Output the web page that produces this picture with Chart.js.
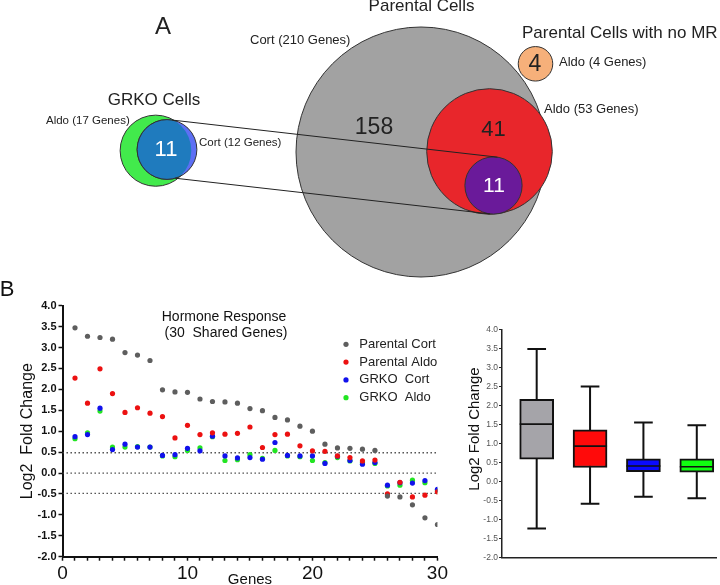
<!DOCTYPE html>
<html>
<head>
<meta charset="utf-8">
<script src="https://cdn.jsdelivr.net/npm/chart.js@4.4.1/dist/chart.umd.min.js"></script>
<style>
  body { margin: 0; background: #fff; }
  #wrap { position: relative; width: 720px; height: 585px; overflow: hidden; }
  canvas { position: absolute; }
  #venn { left: 0; top: 0; }
  #scatter { left: 0; top: 275px; }
  #box { left: 450px; top: 275px; }
</style>
</head>
<body>
<div id="wrap">
  <canvas id="venn" width="720" height="280"></canvas>
  <canvas id="scatter" width="450" height="310"></canvas>
  <canvas id="box" width="270" height="310"></canvas>
</div>
<script>
// ---- data ----
// Panel A: gene counts per set (Parental Cort, Parental Aldo, shared, no-MR Aldo, GRKO Aldo, GRKO Cort)
const vennSets = ['Parental Cort', 'Parental Aldo', 'Shared', 'No MR Aldo', 'GRKO Aldo', 'GRKO Cort'];
const vennGenes = [210, 53, 11, 4, 17, 12];
// numbers written inside the regions
const vennRegionCounts = [158, 41, 11, 4, 11];

// Panel B left: log2 fold change of the 30 shared genes
const genes = [1, 2, 3, 4, 5, 6, 7, 8, 9, 10, 11, 12, 13, 14, 15, 16, 17, 18, 19, 20, 21, 22, 23, 24, 25, 26, 27, 28, 29, 30];
const parentalCort = [3.47, 3.27, 3.24, 3.20, 2.88, 2.82, 2.69, 1.99, 1.94, 1.93, 1.77, 1.71, 1.70, 1.67, 1.54, 1.49, 1.33, 1.27, 1.12, 1.00, 0.69, 0.60, 0.59, 0.57, 0.54, -0.55, -0.57, -0.76, -1.07, -1.23];
const parentalAldo = [2.27, 1.67, 2.49, 1.90, 1.45, 1.56, 1.43, 1.35, 0.84, 1.14, 0.92, 0.96, 0.93, 0.95, 1.10, 0.61, 0.92, 0.93, 0.65, 0.53, 0.52, 0.41, 0.37, 0.29, 0.31, -0.50, -0.22, -0.57, -0.53, -0.45];
const grkoCort = [0.87, 0.92, 1.55, 0.56, 0.69, 0.62, 0.62, 0.42, 0.44, 0.59, 0.53, 0.88, 0.41, 0.36, 0.37, 0.33, 0.73, 0.42, 0.41, 0.41, 0.23, 0.40, 0.30, 0.21, 0.25, -0.29, -0.23, -0.24, -0.18, -0.39];
const grkoAldo = [0.82, 0.96, 1.48, 0.62, 0.62, 0.63, 0.62, 0.41, 0.39, 0.54, 0.60, 0.87, 0.30, 0.32, 0.44, 0.35, 0.54, 0.41, 0.39, 0.30, 0.25, 0.37, 0.29, 0.25, 0.23, -0.31, -0.29, -0.17, -0.23, -0.42];
const seriesNames = ['Parental Cort', 'Parental Aldo', 'GRKO  Cort', 'GRKO  Aldo'];
const xTickLabels = [0, 10, 20, 30];
const thresholds = [0.485, 0, -0.485];

// Panel B right: box plot summaries (same four groups)
const boxMin = [-1.23, -0.58, -0.40, -0.44];
const boxQ1 = [0.59, 0.37, 0.26, 0.25];
const boxMedian = [1.51, 0.93, 0.41, 0.39];
const boxQ3 = [2.16, 1.36, 0.60, 0.60];
const boxMax = [3.48, 2.50, 1.55, 1.48];

// ---- look ----
const FONT = "'Liberation Sans', Arial, sans-serif";
Chart.defaults.font.family = FONT;
Chart.defaults.color = '#111';

const dotColors = ['#5e5e5e', '#ec1111', '#1111ec', '#22e522'];
const boxColors = ['#a5a4a9', '#ff0a0a', '#0a0aff', '#10ff10'];

// ---- Panel A: venn as bubbles ----
const vennLayout = [
  { x: 421, y: 152, color: '#a2a2a2' },
  { x: 489.5, y: 151.5, color: '#e8262b' },
  { x: 493.5, y: 185.5, color: '#6a1a9a' },
  { x: 535.5, y: 63.8, color: '#f6b07a' },
  { x: 155.7, y: 150.7, color: '#42ea4c' },
  { x: 167, y: 149.5, color: '#5d6ff4' },
];
const vennRadius = n => 125 * Math.sqrt(n / vennGenes[0]);

function onCircle(i, deg) {
  const c = vennLayout[i], r = vennRadius(vennGenes[i]);
  const a = deg * Math.PI / 180;
  return { x: c.x + r * Math.sin(a), y: c.y - r * Math.cos(a) };
}

const vennPlugin = {
  id: 'vennPlugin',
  afterDatasetDraw(chart, args) {
    if (args.index !== 0) return;
    // GRKO overlap (Cort inside Aldo) in teal
    const { ctx, scales: { x, y } } = chart;
    const g = vennLayout[4], b = vennLayout[5];
    ctx.save();
    ctx.beginPath();
    ctx.arc(x.getPixelForValue(g.x), y.getPixelForValue(g.y), vennRadius(vennGenes[4]), 0, Math.PI * 2);
    ctx.clip();
    ctx.beginPath();
    ctx.arc(x.getPixelForValue(b.x), y.getPixelForValue(b.y), vennRadius(vennGenes[5]), 0, Math.PI * 2);
    ctx.fillStyle = '#1f7bbe';
    ctx.fill();
    ctx.strokeStyle = '#333';
    ctx.lineWidth = 1;
    ctx.stroke();
    ctx.restore();
  },
  afterDraw(chart) {
    const { ctx, scales: { x, y } } = chart;
    const texts = [
      { t: 'A', x: 163, y: 27, s: 24, a: 'center' },
      { t: 'Parental Cells', x: 421.5, y: 6.5, s: 17, a: 'center' },
      { t: `Cort (${vennGenes[0]} Genes)`, x: 250, y: 40, s: 13, a: 'left' },
      { t: 'Parental Cells with no MR', x: 522, y: 33.5, s: 17, a: 'left' },
      { t: `Aldo (${vennGenes[3]} Genes)`, x: 559, y: 62, s: 13, a: 'left' },
      { t: `Aldo (${vennGenes[1]} Genes)`, x: 544, y: 109.5, s: 13, a: 'left' },
      { t: 'GRKO Cells', x: 154, y: 100, s: 17, a: 'center' },
      { t: `Aldo (${vennGenes[4]} Genes)`, x: 46, y: 121, s: 11.5, a: 'left' },
      { t: `Cort (${vennGenes[5]} Genes)`, x: 199, y: 143, s: 11.5, a: 'left' },
    ];
    const countPos = [
      { x: 374, y: 127.5, c: '#222', s: 23 },
      { x: 493.5, y: 129.5, c: '#222', s: 22 },
      { x: 494, y: 186, c: '#fff', s: 21 },
      { x: 535, y: 64.5, c: '#222', s: 23 },
      { x: 166, y: 150, c: '#fff', s: 22 },
    ];
    ctx.save();
    ctx.textBaseline = 'middle';
    ctx.fillStyle = '#222';
    texts.forEach(d => {
      ctx.font = `${d.s}px ${FONT}`;
      ctx.textAlign = d.a;
      ctx.fillText(d.t, x.getPixelForValue(d.x), y.getPixelForValue(d.y));
    });
    ctx.textAlign = 'center';
    vennRegionCounts.forEach((n, i) => {
      const p = countPos[i];
      ctx.font = `${p.s}px ${FONT}`;
      ctx.fillStyle = p.c;
      ctx.fillText(String(n), x.getPixelForValue(p.x), y.getPixelForValue(p.y));
    });
    ctx.restore();
  }
};

const connectors = [
  [onCircle(5, 10), onCircle(2, 8)],
  [onCircle(5, 164), onCircle(2, 187)],
];

new Chart(document.getElementById('venn'), {
  type: 'bubble',
  data: {
    datasets: [
      {
        label: 'sets',
        data: vennGenes.map((n, i) => ({ x: vennLayout[i].x, y: vennLayout[i].y, r: vennRadius(n) })),
        backgroundColor: vennLayout.map(c => c.color),
        borderColor: '#333',
        borderWidth: 1,
        clip: false,
        order: 2,
      },
      ...connectors.map(seg => ({
        type: 'line',
        label: 'link',
        data: seg,
        borderColor: '#222',
        borderWidth: 1,
        pointRadius: 0,
        clip: false,
        order: 1,
      })),
    ]
  },
  options: {
    responsive: false,
    animation: false,
    events: [],
    layout: { padding: 0, autoPadding: false },
    plugins: { legend: { display: false }, tooltip: { enabled: false } },
    scales: {
      x: { type: 'linear', min: 0, max: 720, display: false },
      y: { type: 'linear', min: 0, max: 280, reverse: true, display: false },
    }
  },
  plugins: [vennPlugin]
});

// ---- Panel B left: scatter ----
const scatterText = {
  id: 'scatterText',
  afterDraw(chart) {
    const { ctx, chartArea } = chart;
    ctx.save();
    ctx.fillStyle = '#111';
    ctx.textBaseline = 'middle';
    ctx.textAlign = 'center';
    ctx.font = `22px ${FONT}`;
    ctx.fillText('B', 7, 15);
    ctx.font = `14px ${FONT}`;
    ctx.fillText('Hormone Response', 224, 41.7);
    ctx.fillText(`(${genes.length}  Shared Genes)`, 226, 58);
    ctx.font = `15px ${FONT}`;
    ctx.fillText('Genes', (chartArea.left + chartArea.right) / 2, 305);
    // legend
    ctx.font = `13px ${FONT}`;
    ctx.textAlign = 'left';
    seriesNames.forEach((name, i) => {
      const yy = 69.3 + i * 17.8;
      ctx.fillStyle = dotColors[i];
      ctx.beginPath();
      ctx.arc(346, yy, 2.6, 0, Math.PI * 2);
      ctx.fill();
      ctx.fillStyle = '#222';
      ctx.fillText(name, 359.3, yy);
    });
    ctx.restore();
  }
};

const seriesData = [parentalCort, parentalAldo, grkoCort, grkoAldo];

new Chart(document.getElementById('scatter'), {
  type: 'scatter',
  data: {
    datasets: [
      ...seriesData.map((vals, i) => ({
        label: seriesNames[i],
        data: genes.map((g, k) => ({ x: g, y: vals[k] })),
        backgroundColor: dotColors[i],
        borderWidth: 0,
        pointRadius: 2.6,
      })),
      ...thresholds.map(t => ({
        type: 'line',
        label: 'threshold',
        data: [{ x: 0, y: t }, { x: 30, y: t }],
        borderColor: '#444',
        borderWidth: 1.3,
        borderDash: [1.4, 2.6],
        pointRadius: 0,
      })),
    ]
  },
  options: {
    responsive: false,
    animation: false,
    events: [],
    layout: { padding: { top: 30.7, right: 11.7, bottom: 0, left: 0 } },
    plugins: { legend: { display: false }, tooltip: { enabled: false } },
    scales: {
      x: {
        type: 'linear',
        min: 0,
        max: 30,
        afterFit: s => { s.height = 28.3; },
        ticks: {
          stepSize: 1,
          autoSkip: false,
          maxRotation: 0,
          padding: 2,
          color: '#111',
          font: { size: 19 },
          callback: v => xTickLabels.includes(v) ? String(v) : '',
        },
        grid: { drawOnChartArea: false, tickLength: 4, tickColor: '#111', tickWidth: 1.5 },
        border: { color: '#111', width: 2 },
      },
      y: {
        min: -2,
        max: 4,
        afterFit: s => { s.width = 62.5; },
        ticks: {
          stepSize: 0.5,
          padding: 2,
          color: '#111',
          font: { size: 11, weight: 'bold' },
          callback: v => v.toFixed(1),
        },
        grid: { drawOnChartArea: false, tickLength: 4, tickColor: '#111', tickWidth: 1.5 },
        border: { color: '#111', width: 2 },
        title: {
          display: true,
          text: 'Log2  Fold Change',
          color: '#111',
          font: { size: 16 },
          padding: { top: 18, bottom: 0 },
        },
      }
    }
  },
  plugins: [scatterText]
});

// ---- Panel B right: box plot ----
const boxWhiskers = {
  id: 'boxWhiskers',
  beforeDatasetsDraw(chart) {
    const { ctx, scales: { x, y } } = chart;
    ctx.save();
    ctx.strokeStyle = '#111';
    ctx.lineWidth = 2;
    boxMin.forEach((lo, i) => {
      const cx = x.getPixelForValue(i + 1);
      const cap = x.getPixelForValue(i + 1.175) - cx;
      const yLo = y.getPixelForValue(lo);
      const yHi = y.getPixelForValue(boxMax[i]);
      ctx.beginPath();
      ctx.moveTo(cx, yLo); ctx.lineTo(cx, yHi);
      ctx.moveTo(cx - cap, yLo); ctx.lineTo(cx + cap, yLo);
      ctx.moveTo(cx - cap, yHi); ctx.lineTo(cx + cap, yHi);
      ctx.stroke();
    });
    ctx.restore();
  },
  afterDatasetsDraw(chart) {
    const { ctx, scales: { y } } = chart;
    const bars = chart.getDatasetMeta(0).data;
    ctx.save();
    ctx.strokeStyle = '#111';
    ctx.lineWidth = 1.6;
    boxMedian.forEach((m, i) => {
      const b = bars[i];
      const py = y.getPixelForValue(m);
      ctx.beginPath();
      ctx.moveTo(b.x - b.width / 2, py);
      ctx.lineTo(b.x + b.width / 2, py);
      ctx.stroke();
    });
    // y title
    ctx.translate(25, 154);
    ctx.rotate(-Math.PI / 2);
    ctx.fillStyle = '#111';
    ctx.font = `15px ${FONT}`;
    ctx.textAlign = 'center';
    ctx.textBaseline = 'middle';
    ctx.fillText('Log2 Fold Change', 0, 0);
    ctx.restore();
  }
};

new Chart(document.getElementById('box'), {
  type: 'bar',
  data: {
    datasets: [{
      label: 'IQR',
      data: boxQ1.map((q1, i) => ({ x: i + 1, y: [q1, boxQ3[i]] })),
      backgroundColor: boxColors,
      borderColor: '#111',
      borderWidth: 2,
      borderSkipped: false,
      barThickness: 34,
    }]
  },
  options: {
    responsive: false,
    animation: false,
    events: [],
    layout: { padding: { top: 54.3, right: 4, bottom: 0, left: 0 } },
    plugins: { legend: { display: false }, tooltip: { enabled: false } },
    scales: {
      x: {
        type: 'linear',
        min: 0.35,
        max: 4.36,
        offset: false,
        afterFit: s => { s.height = 27.3; },
        ticks: { display: false },
        grid: { display: false, offset: false },
        border: { color: '#222', width: 1.5 },
      },
      y: {
        min: -2,
        max: 4,
        afterFit: s => { s.width = 52; },
        ticks: {
          stepSize: 0.5,
          padding: 1,
          color: '#555',
          font: { size: 8.5 },
          callback: v => v.toFixed(1),
        },
        grid: { drawOnChartArea: false, tickLength: 3, tickColor: '#222', tickWidth: 1 },
        border: { color: '#222', width: 1.5 },
      }
    }
  },
  plugins: [boxWhiskers]
});
</script>
</body>
</html>
